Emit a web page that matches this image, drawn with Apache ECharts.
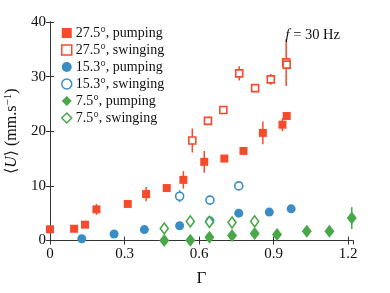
<!DOCTYPE html>
<html><head><meta charset="utf-8">
<script src="https://cdn.jsdelivr.net/npm/echarts@6/dist/echarts.min.js"></script>
<style>html,body{margin:0;padding:0;background:#fff}#c{width:390px;height:293px}</style>
</head><body><div id="c"></div>
<script>
var xTicks = [0, 0.3, 0.6, 0.9, 1.2];
var yTicks = [0, 10, 20, 30, 40];

var redPumpX = [0, 0.097, 0.141, 0.187, 0.313, 0.387, 0.470, 0.537, 0.621, 0.702, 0.779, 0.857, 0.936, 0.953];
var redPumpY = [2.05, 2.15, 2.9, 5.7, 6.7, 8.5, 9.6, 11.1, 14.4, 15.0, 16.4, 19.7, 21.2, 22.8];
var redPumpE = [0, 0, 0, 1.0, 0, 1.3, 0, 1.6, 2.0, 0, 0, 2.1, 1.2, 0];

var redSwingX = [0.573, 0.636, 0.698, 0.762, 0.826, 0.889, 0.951, 0.953];
var redSwingY = [18.3, 21.9, 23.9, 30.6, 27.9, 29.5, 32.6, 32.2];
var redSwingE = [2.2, 0, 0, 1.3, 0, 1.0, 4.3, 0];

var bluePumpX = [0.128, 0.258, 0.380, 0.522, 0.644, 0.760, 0.883, 0.971];
var bluePumpY = [0.33, 1.2, 2.0, 2.7, 3.6, 5.0, 5.2, 5.8];
var bluePumpE = [0, 0, 0, 0, 0, 0, 0, 0];

var blueSwingX = [0.522, 0.644, 0.760];
var blueSwingY = [8.1, 7.4, 10.0];
var blueSwingE = [1.1, 0, 0];

var greenPumpX = [0.460, 0.565, 0.642, 0.733, 0.824, 0.914, 1.034, 1.125, 1.215];
var greenPumpY = [0, 0.05, 0.6, 0.9, 1.3, 1.1, 1.7, 1.7, 4.1];
var greenPumpE = [0, 0, 0, 0, 0, 0, 0, 0, 2.0];

var greenSwingX = [0.460, 0.565, 0.642, 0.733, 0.824];
var greenSwingY = [2.2, 3.5, 3.4, 3.3, 3.5];
var greenSwingE = [0, 0, 0, 0, 0];

var names = ['27.5°, pumping', '27.5°, swinging', '15.3°, pumping', '15.3°, swinging', '7.5°, pumping', '7.5°, swinging'];

var RED = '#f64a2c', BLUE = '#3a8dc4', GREEN = '#48a848';
var SERIF = "'Liberation Serif', 'DejaVu Serif', serif";

function pts(xs, ys) { return xs.map(function (x, i) { return [x, ys[i]]; }); }
function errPts(xs, ys, es) {
  var out = [];
  xs.forEach(function (x, i) { if (es[i] > 0) out.push([x, ys[i], es[i]]); });
  return out;
}

var defs = [
  {x: redPumpX, y: redPumpY, e: redPumpE, c: RED, sym: 'rect', size: 8, open: false},
  {x: redSwingX, y: redSwingY, e: redSwingE, c: RED, sym: 'rect', size: 7, open: true},
  {x: bluePumpX, y: bluePumpY, e: bluePumpE, c: BLUE, sym: 'circle', size: 9, open: false},
  {x: blueSwingX, y: blueSwingY, e: blueSwingE, c: BLUE, sym: 'circle', size: 8, open: true},
  {x: greenPumpX, y: greenPumpY, e: greenPumpE, c: GREEN, sym: 'diamond', size: [10, 13], open: false},
  {x: greenSwingX, y: greenSwingY, e: greenSwingE, c: GREEN, sym: 'diamond', size: [8, 11], open: true}
];

var series = [];
defs.forEach(function (d, k) {
  series.push({
    type: 'custom', silent: true, z: 1,
    data: errPts(d.x, d.y, d.e),
    renderItem: function (params, api) {
      var x = api.value(0), y = api.value(1), e = api.value(2);
      var p1 = api.coord([x, y - e]), p2 = api.coord([x, y + e]);
      return {type: 'line', shape: {x1: p1[0], y1: p1[1], x2: p2[0], y2: p2[1]},
              style: {stroke: d.c, lineWidth: 1.5}};
    }
  });
});
defs.forEach(function (d, k) {
  series.push({
    name: names[k], type: 'scatter', z: 3,
    symbol: d.sym, symbolSize: d.size,
    data: pts(d.x, d.y),
    itemStyle: d.open ? {color: '#fff', borderColor: d.c, borderWidth: 1.6, opacity: 1}
                      : {color: d.c, opacity: 1}
  });
});

var axisLineStyle = {color: '#333', width: 1};
var option = {
  animation: false,
  backgroundColor: '#fff',
  title: {
    text: '{i|f} = 30 Hz', right: 45, top: 23,
    textStyle: {fontFamily: SERIF, fontSize: 14.5, fontWeight: 'normal', color: '#111',
      rich: {i: {fontFamily: SERIF, fontStyle: 'italic', fontSize: 14.5, color: '#111'}}}
  },
  legend: {
    orient: 'vertical', left: 56, top: 21, itemGap: 3, itemWidth: 10, itemHeight: 10, itemStyle: {borderWidth: 1.5},
    data: names.map(function (n, k) { return {name: n, icon: defs[k].sym}; }),
    textStyle: {fontFamily: SERIF, fontSize: 14, color: '#111', lineHeight: 14, padding: [0, 0, 0, -1]}
  },
  grid: {left: 50, right: 37, top: 22, bottom: 52.5, outerBoundsMode: 'none', containLabel: false},
  xAxis: [{
    type: 'value', min: 0, max: 1.22, interval: 0.3,
    axisLine: {show: true, lineStyle: axisLineStyle},
    axisTick: {show: true, inside: true, length: 4, lineStyle: axisLineStyle},
    splitLine: {show: false},
    axisLabel: {fontFamily: SERIF, fontSize: 15, color: '#111', margin: 6, showMaxLabel: false,
      formatter: function (v) { var r = Math.round(v * 10) / 10; return (xTicks.indexOf(r) >= 0 && Math.abs(v - r) < 1e-6) ? String(r) : ''; }},
    name: 'Γ', nameLocation: 'middle', nameGap: 30,
    nameTextStyle: {fontFamily: SERIF, fontSize: 17, color: '#111'}
  }, {
    type: 'value', min: 0, max: 1.22, interval: 0.3, position: 'top',
    axisLine: {show: true, lineStyle: axisLineStyle},
    axisTick: {show: true, inside: true, length: 4, lineStyle: axisLineStyle},
    axisLabel: {show: false}, splitLine: {show: false}
  }],
  yAxis: [{
    type: 'value', min: 0, max: 40, interval: 10,
    axisLine: {show: true, lineStyle: axisLineStyle},
    axisTick: {show: true, inside: true, length: 4, lineStyle: axisLineStyle},
    splitLine: {show: false},
    axisLabel: {fontFamily: SERIF, fontSize: 15, color: '#111', margin: 4,
      formatter: function (v) { return yTicks.indexOf(v) >= 0 ? String(v) : ''; }},
    name: '⟨{i|U}⟩ (mm.s{s|−1})', nameLocation: 'middle', nameGap: 28, nameRotate: 90,
    nameTextStyle: {fontFamily: SERIF, fontSize: 16, color: '#111',
      rich: {i: {fontFamily: SERIF, fontStyle: 'italic', fontSize: 16, color: '#111'},
             s: {fontFamily: SERIF, fontSize: 11, color: '#111', verticalAlign: 'top', padding: [0, 0, 8, 0]}}}
  }, {
    type: 'value', min: 0, max: 40, interval: 10, position: 'right',
    axisLine: {show: true, lineStyle: axisLineStyle},
    axisTick: {show: true, inside: true, length: 4, lineStyle: axisLineStyle},
    axisLabel: {show: false}, splitLine: {show: false}
  }],
  series: series
};
var chart = echarts.init(document.getElementById('c'), null, {renderer: 'canvas'});
chart.setOption(option);
</script></body></html>
